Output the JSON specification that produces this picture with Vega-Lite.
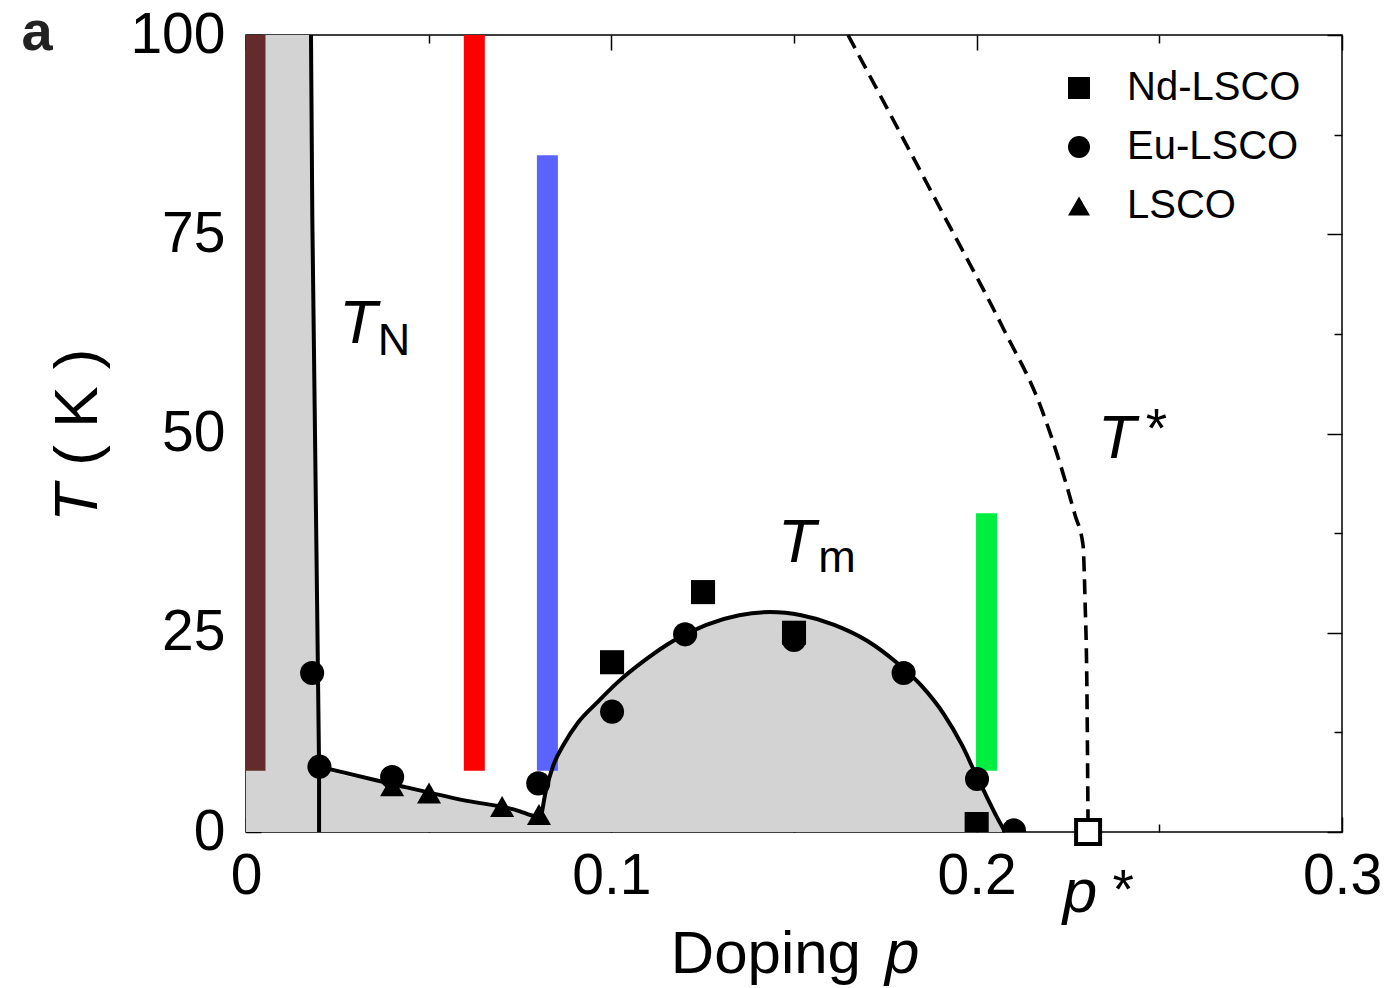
{
  "$schema": "https://vega.github.io/schema/vega-lite/v6.json",
  "width": 1096,
  "height": 797,
  "autosize": {"type": "none"},
  "padding": {"left": 246, "top": 35, "right": 42, "bottom": 156},
  "background": "white",
  "config": {
    "view": {"stroke": "black", "strokeWidth": 1.5},
    "font": "Liberation Sans",
    "axis": {"grid": false, "domain": false, "tickColor": "black", "tickWidth": 1.5, "labelFont": "Liberation Sans", "labelColor": "black"}
  },
  "datasets": {
    "region": [
      {"p": 0, "T": 100}, {"p": 0.01779, "T": 100}, {"p": 0.01815, "T": 77.2}, {"p": 0.01952, "T": 26.6},
      {"p": 0.02, "T": 8.2}, {"p": 0.0402, "T": 6.0}, {"p": 0.0594, "T": 4.0}, {"p": 0.075, "T": 2.6},
      {"p": 0.078, "T": 2.1}, {"p": 0.0805, "T": 1.9}, {"p": 0.082, "T": 5.0}, {"p": 0.084, "T": 8.2},
      {"p": 0.087, "T": 11.0}, {"p": 0.091, "T": 13.8}, {"p": 0.096, "T": 16.2}, {"p": 0.102, "T": 18.9},
      {"p": 0.109, "T": 21.5}, {"p": 0.117, "T": 24.0}, {"p": 0.126, "T": 26.0}, {"p": 0.135, "T": 27.2},
      {"p": 0.1435, "T": 27.6}, {"p": 0.152, "T": 27.2}, {"p": 0.161, "T": 26.0}, {"p": 0.17, "T": 24.0},
      {"p": 0.178, "T": 21.3}, {"p": 0.185, "T": 18.3}, {"p": 0.191, "T": 14.8}, {"p": 0.196, "T": 10.9},
      {"p": 0.2, "T": 7.0}, {"p": 0.203, "T": 4.2}, {"p": 0.2055, "T": 1.9}, {"p": 0.2078, "T": 0}
    ],
    "lower": [
      {"p": 0.02, "T": 8.2}, {"p": 0.0402, "T": 6.0}, {"p": 0.0594, "T": 4.0}, {"p": 0.075, "T": 2.6},
      {"p": 0.078, "T": 2.1}, {"p": 0.0805, "T": 1.9}, {"p": 0.082, "T": 5.0}, {"p": 0.084, "T": 8.2},
      {"p": 0.087, "T": 11.0}, {"p": 0.091, "T": 13.8}, {"p": 0.096, "T": 16.2}, {"p": 0.102, "T": 18.9},
      {"p": 0.109, "T": 21.5}, {"p": 0.117, "T": 24.0}, {"p": 0.126, "T": 26.0}, {"p": 0.135, "T": 27.2},
      {"p": 0.1435, "T": 27.6}, {"p": 0.152, "T": 27.2}, {"p": 0.161, "T": 26.0}, {"p": 0.17, "T": 24.0},
      {"p": 0.178, "T": 21.3}, {"p": 0.185, "T": 18.3}, {"p": 0.191, "T": 14.8}, {"p": 0.196, "T": 10.9},
      {"p": 0.2, "T": 7.0}, {"p": 0.203, "T": 4.2}, {"p": 0.2055, "T": 1.9}, {"p": 0.2078, "T": 0}
    ],
    "tn": [
      {"p": 0.01779, "T": 100}, {"p": 0.01815, "T": 77.2}, {"p": 0.01952, "T": 26.6}, {"p": 0.02, "T": 8.2}, {"p": 0.02, "T": 0}
    ],
    "tstar": [
      {"p": 0.16478, "T": 100}, {"p": 0.19024, "T": 78.04}, {"p": 0.20749, "T": 62.99}, {"p": 0.21734, "T": 53.58},
      {"p": 0.22418, "T": 44.17}, {"p": 0.22692, "T": 39.77}, {"p": 0.22911, "T": 36.01}, {"p": 0.22966, "T": 29.11},
      {"p": 0.23021, "T": 16.56}, {"p": 0.23048, "T": 1.25}
    ],
    "bars": [
      {"sample": "brown", "p": 0.00246, "Tlo": 7.7, "Thi": 100},
      {"sample": "red", "p": 0.0625, "Tlo": 7.7, "Thi": 100},
      {"sample": "blue", "p": 0.0825, "Tlo": 7.7, "Thi": 84.9},
      {"sample": "green", "p": 0.2027, "Tlo": 7.7, "Thi": 40.0}
    ],
    "points": [
      {"series": "Nd-LSCO", "p": 0.1002, "T": 21.3},
      {"series": "Nd-LSCO", "p": 0.1251, "T": 30.1},
      {"series": "Nd-LSCO", "p": 0.15, "T": 25.0},
      {"series": "Nd-LSCO", "p": 0.2, "T": 1.0},
      {"series": "Eu-LSCO", "p": 0.0181, "T": 19.95},
      {"series": "Eu-LSCO", "p": 0.0201, "T": 8.2},
      {"series": "Eu-LSCO", "p": 0.04, "T": 6.9},
      {"series": "Eu-LSCO", "p": 0.08, "T": 6.1},
      {"series": "Eu-LSCO", "p": 0.1002, "T": 15.1},
      {"series": "Eu-LSCO", "p": 0.1202, "T": 24.8},
      {"series": "Eu-LSCO", "p": 0.15, "T": 24.1},
      {"series": "Eu-LSCO", "p": 0.18, "T": 19.95},
      {"series": "Eu-LSCO", "p": 0.2001, "T": 6.65},
      {"series": "Eu-LSCO", "p": 0.2102, "T": 0.2},
      {"series": "LSCO", "p": 0.04, "T": 5.8},
      {"series": "LSCO", "p": 0.0501, "T": 4.9},
      {"series": "LSCO", "p": 0.0701, "T": 3.2},
      {"series": "LSCO", "p": 0.0802, "T": 2.2}
    ],
    "pstar": [{"p": 0.2305, "T": 0}],
    "ital": [
      {"t": "T", "p": 0.0307, "T": 61.35},
      {"t": "T", "p": 0.1508, "T": 33.9},
      {"t": "T", "p": 0.2384, "T": 46.9},
      {"t": "p", "p": 0.2283, "T": -10.0},
      {"t": "p", "p": 0.1796, "T": -17.7}
    ],
    "subs": [
      {"t": "N", "p": 0.0405, "T": 59.85},
      {"t": "m", "p": 0.1618, "T": 32.66}
    ],
    "stars": [
      {"t": "*", "p": 0.2492, "T": 48.3},
      {"t": "*", "p": 0.2401, "T": -9.5}
    ],
    "plain": [{"t": "Doping", "p": 0.1423, "T": -17.7}],
    "rotital": [{"t": "T", "p": -0.0408, "T": 41.3}],
    "rotplain": [{"t": "( K )", "p": -0.0408, "T": 53.3}],
    "bold": [{"t": "a", "p": -0.0572, "T": 98.12}]
  },
  "layer": [
    {
      "data": {"name": "region"},
      "mark": {"type": "area", "color": "#d3d3d3", "interpolate": "monotone"},
      "encoding": {
        "x": {"field": "p", "type": "quantitative", "scale": {"domain": [0, 0.3], "nice": false, "zero": false},
          "axis": {"orient": "bottom", "values": [0, 0.05, 0.1, 0.15, 0.2, 0.25, 0.3], "format": "~g",
            "labelExpr": "abs(datum.value*10-round(datum.value*10))<0.001 ? datum.label : ''",
            "labelFontSize": 57, "labelPadding": 31, "labelFlush": false, "labelOverlap": false,
            "tickSize": {"condition": {"test": "abs(datum.value*10-round(datum.value*10))<0.001", "value": -15}, "value": -8},
            "title": null}},
        "y": {"field": "T", "type": "quantitative", "scale": {"domain": [0, 100], "nice": false},
          "axis": {"orient": "left", "values": [0, 12.5, 25, 37.5, 50, 62.5, 75, 87.5, 100],
            "labelExpr": "datum.value % 25 === 0 ? datum.label : ''",
            "labelFontSize": 57, "labelPadding": 36, "labelFlush": false, "labelOverlap": false,
            "tickSize": {"condition": {"test": "datum.value % 25 === 0", "value": -15}, "value": -8},
            "title": null}},
        "y2": {"datum": 0}
      }
    },
    {
      "data": {"name": "bars"},
      "mark": {"type": "rule", "strokeWidth": 21, "strokeCap": "butt", "clip": true},
      "encoding": {
        "x": {"field": "p", "type": "quantitative", "scale": {"domain": [0, 0.3], "nice": false, "zero": false},
          "axis": {"orient": "top", "values": [0, 0.05, 0.1, 0.15, 0.2, 0.25, 0.3], "labels": false,
            "tickSize": {"condition": {"test": "abs(datum.value*10-round(datum.value*10))<0.001", "value": -15}, "value": -8},
            "title": null}},
        "y": {"field": "Tlo", "type": "quantitative", "scale": {"domain": [0, 100], "nice": false},
          "axis": {"orient": "right", "values": [0, 12.5, 25, 37.5, 50, 62.5, 75, 87.5, 100], "labels": false,
            "tickSize": {"condition": {"test": "datum.value % 25 === 0", "value": -15}, "value": -8},
            "title": null}},
        "y2": {"field": "Thi"},
        "color": {"field": "sample", "type": "nominal", "legend": null,
          "scale": {"domain": ["brown", "red", "blue", "green"], "range": ["#632b2b", "#ff0000", "#5b63ff", "#00ee40"]}}
      }
    },
    {
      "data": {"name": "tn"},
      "mark": {"type": "line", "color": "black", "strokeWidth": 4},
      "encoding": {
        "x": {"field": "p", "type": "quantitative", "axis": null},
        "y": {"field": "T", "type": "quantitative", "axis": null},
        "order": {"value": null}
      }
    },
    {
      "data": {"name": "lower"},
      "mark": {"type": "line", "color": "black", "strokeWidth": 4, "interpolate": "monotone"},
      "encoding": {
        "x": {"field": "p", "type": "quantitative", "axis": null},
        "y": {"field": "T", "type": "quantitative", "axis": null}
      }
    },
    {
      "data": {"name": "tstar"},
      "mark": {"type": "line", "color": "black", "strokeWidth": 3.6, "strokeDash": [15, 8], "interpolate": "monotone"},
      "encoding": {
        "x": {"field": "p", "type": "quantitative", "axis": null},
        "y": {"field": "T", "type": "quantitative", "axis": null}
      }
    },
    {
      "data": {"name": "points"},
      "mark": {"type": "point", "filled": true, "color": "black", "opacity": 1, "size": 580, "strokeWidth": 0, "clip": true},
      "encoding": {
        "x": {"field": "p", "type": "quantitative", "axis": null},
        "y": {"field": "T", "type": "quantitative", "axis": null},
        "shape": {"field": "series", "type": "nominal",
          "scale": {"domain": ["Nd-LSCO", "Eu-LSCO", "LSCO"], "range": ["square", "circle", "triangle-up"]},
          "legend": {"title": null, "orient": "none", "legendX": 813, "legendY": 33, "labelFontSize": 40,
            "labelFont": "Liberation Sans", "labelColor": "black", "labelLimit": 0, "symbolSize": 484, "labelOffset": 28,
            "rowPadding": 19, "symbolStrokeWidth": 0, "symbolFillColor": "black", "symbolOpacity": 1}}
      }
    },
    {
      "data": {"name": "pstar"},
      "mark": {"type": "point", "shape": "square", "filled": true, "color": "white", "stroke": "black", "strokeWidth": 4, "size": 576, "opacity": 1},
      "encoding": {
        "x": {"field": "p", "type": "quantitative", "axis": null},
        "y": {"field": "T", "type": "quantitative", "axis": null}
      }
    },
    {
      "data": {"name": "ital"},
      "mark": {"type": "text", "font": "Liberation Sans", "fontStyle": "italic", "fontSize": 62, "align": "center", "baseline": "alphabetic", "color": "black"},
      "encoding": {
        "x": {"field": "p", "type": "quantitative", "axis": null},
        "y": {"field": "T", "type": "quantitative", "axis": null},
        "text": {"field": "t"}
      }
    },
    {
      "data": {"name": "subs"},
      "mark": {"type": "text", "font": "Liberation Sans", "fontSize": 45, "align": "center", "baseline": "alphabetic", "color": "black"},
      "encoding": {
        "x": {"field": "p", "type": "quantitative", "axis": null},
        "y": {"field": "T", "type": "quantitative", "axis": null},
        "text": {"field": "t"}
      }
    },
    {
      "data": {"name": "stars"},
      "mark": {"type": "text", "font": "Liberation Sans", "fontSize": 55, "align": "center", "baseline": "alphabetic", "color": "black"},
      "encoding": {
        "x": {"field": "p", "type": "quantitative", "axis": null},
        "y": {"field": "T", "type": "quantitative", "axis": null},
        "text": {"field": "t"}
      }
    },
    {
      "data": {"name": "plain"},
      "mark": {"type": "text", "font": "Liberation Sans", "fontSize": 60, "align": "center", "baseline": "alphabetic", "color": "black"},
      "encoding": {
        "x": {"field": "p", "type": "quantitative", "axis": null},
        "y": {"field": "T", "type": "quantitative", "axis": null},
        "text": {"field": "t"}
      }
    },
    {
      "data": {"name": "rotital"},
      "mark": {"type": "text", "font": "Liberation Sans", "fontStyle": "italic", "fontSize": 62, "angle": 270, "align": "center", "baseline": "alphabetic", "color": "black"},
      "encoding": {
        "x": {"field": "p", "type": "quantitative", "axis": null},
        "y": {"field": "T", "type": "quantitative", "axis": null},
        "text": {"field": "t"}
      }
    },
    {
      "data": {"name": "rotplain"},
      "mark": {"type": "text", "font": "Liberation Sans", "fontSize": 62, "angle": 270, "align": "center", "baseline": "alphabetic", "color": "black"},
      "encoding": {
        "x": {"field": "p", "type": "quantitative", "axis": null},
        "y": {"field": "T", "type": "quantitative", "axis": null},
        "text": {"field": "t"}
      }
    },
    {
      "data": {"name": "bold"},
      "mark": {"type": "text", "font": "Liberation Sans", "fontWeight": "bold", "fontSize": 56, "align": "center", "baseline": "alphabetic", "color": "#222222"},
      "encoding": {
        "x": {"field": "p", "type": "quantitative", "axis": null},
        "y": {"field": "T", "type": "quantitative", "axis": null},
        "text": {"field": "t"}
      }
    }
  ],
  "resolve": {"axis": {"x": "independent", "y": "independent"}}
}
